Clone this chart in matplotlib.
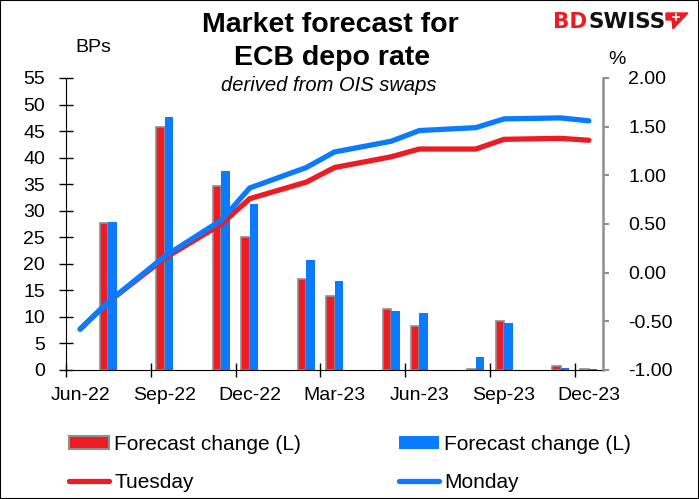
import numpy as np
import matplotlib
matplotlib.use('Agg')
import matplotlib.pyplot as plt
from matplotlib.patches import Patch, Polygon, Rectangle
from matplotlib.lines import Line2D

plt.rcParams['font.family'] = ['Liberation Sans', 'DejaVu Sans']

months = ['Jun-22', 'Jul-22', 'Aug-22', 'Sep-22', 'Oct-22', 'Nov-22', 'Dec-22',
          'Jan-23', 'Feb-23', 'Mar-23', 'Apr-23', 'May-23', 'Jun-23', 'Jul-23',
          'Aug-23', 'Sep-23', 'Oct-23', 'Nov-23', 'Dec-23']
meetings = ['Jul-22', 'Sep-22', 'Nov-22', 'Dec-22', 'Feb-23', 'Mar-23',
            'May-23', 'Jun-23', 'Aug-23', 'Sep-23', 'Nov-23', 'Dec-23']
change_tue = [27.6, 45.8, 34.6, 25.1, 17.2, 13.9, 11.4, 8.3, 0.1, 9.2, 0.75, 0.1]
change_mon = [27.9, 47.6, 37.5, 31.3, 20.7, 16.8, 11.1, 10.7, 2.5, 8.8, 0.3, 0.2]
line_months = ['Jun-22'] + meetings
rate_tue = [-0.58, -0.30, 0.15, 0.50, 0.76, 0.93, 1.08, 1.19, 1.27, 1.27, 1.37, 1.38, 1.36]
rate_mon = [-0.58, -0.30, 0.17, 0.54, 0.87, 1.08, 1.24, 1.35, 1.46, 1.49, 1.58, 1.59, 1.56]

RED = '#ED1C24'
BLUE = '#0A7BFF'
GREY = '#8F8F8F'
W, H = 699, 499


def px(x, y):
    return x / W, 1 - y / H


fig = plt.figure(figsize=(W / 100, H / 100), dpi=100)
ax = fig.add_axes([66 / W, 1 - 370 / H, (603 - 66) / W, (370 - 78) / H])
ax2 = ax.twinx()

bx = np.array([months.index(m) for m in meetings])
lx = np.array([months.index(m) for m in line_months])

ax.bar(bx - 0.15, change_tue, width=0.3, color=RED, edgecolor=GREY, linewidth=1.2)
ax.bar(bx + 0.15, change_mon, width=0.3, color=BLUE, linewidth=0)
ax.set_ylim(0, 55)
ax.set_yticks(np.arange(0, 56, 5))
ax.set_xlim(-0.5, len(months) - 0.5)

ax2.plot(lx, rate_tue, color=RED, lw=3.8, solid_capstyle='round', solid_joinstyle='round')
ax2.plot(lx, rate_mon, color=BLUE, lw=3.8, solid_capstyle='round', solid_joinstyle='round')
ax2.set_ylim(-1, 2)
ax2.set_yticks(np.arange(-1, 2.01, 0.5))
ax2.set_yticklabels(['%.2f' % v for v in np.arange(-1, 2.01, 0.5)])

# x axis: ticks on month boundaries, labels in month centres
ax.set_xticks(np.arange(-0.5, len(months), 3))
ax.set_xticklabels([])
ax.set_xticks(np.arange(0, len(months), 3), minor=True)
ax.set_xticklabels(months[::3], minor=True)
ax.tick_params(axis='x', which='major', direction='inout', length=10, width=1)
ax.tick_params(axis='x', which='minor', length=0, pad=12, labelsize=14)
ax.tick_params(axis='y', direction='inout', length=10, width=1, pad=10, labelsize=14)
ax2.tick_params(axis='y', direction='out', length=4, width=1.5, color=GREY, pad=14, labelsize=14)

for a in (ax, ax2):
    a.spines['top'].set_visible(False)
    a.patch.set_visible(False)
ax.spines['right'].set_visible(False)
ax2.spines['left'].set_visible(False)
ax2.spines['bottom'].set_visible(False)
ax2.spines['right'].set_color(GREY)
ax2.spines['right'].set_linewidth(1.8)
ax.set_zorder(1)
ax2.set_zorder(2)

# titles and axis units
fig.text(*px(330, 32), 'Market forecast for', ha='center', va='baseline',
         fontsize=20.5, fontweight='bold')
fig.text(*px(332, 65), 'ECB depo rate', ha='center', va='baseline',
         fontsize=20.5, fontweight='bold')
fig.text(*px(329, 91), 'derived from OIS swaps', ha='center', va='baseline',
         fontsize=14.5, style='italic')
fig.text(*px(93, 47), 'BPs', ha='center', va='center', fontsize=14)
fig.text(*px(617, 60), '%', ha='center', va='center', fontsize=14)

# logo
fig.text(*px(553, 28), 'BD', color=RED, fontsize=15.5, fontweight='bold',
         va='baseline', family='DejaVu Sans')
fig.text(*px(588, 28), 'SWISS', color='#111111', fontsize=15.5, fontweight='bold',
         va='baseline', family='DejaVu Sans')
flag = [px(666, 13), px(688, 13), px(673, 29), px(672, 20), px(666, 20)]
fig.patches.append(Polygon(flag, closed=True, color=RED, transform=fig.transFigure))
fig.lines.append(Line2D([px(673, 16.5)[0], px(679, 16.5)[0]], [px(673, 16.5)[1]] * 2,
                        color='white', lw=1.2, transform=fig.transFigure))
fig.lines.append(Line2D([px(676, 13.5)[0]] * 2, [px(676, 13.5)[1], px(676, 19.5)[1]],
                        color='white', lw=1.2, transform=fig.transFigure))

handles = [Patch(facecolor=RED, edgecolor=GREY, linewidth=1.5),
           Line2D([], [], color=RED, lw=3.8, solid_capstyle='round'),
           Patch(facecolor=BLUE, linewidth=0),
           Line2D([], [], color=BLUE, lw=3.8, solid_capstyle='round')]
labels = ['Forecast change (L)', 'Tuesday', 'Forecast change (L)', 'Monday']
fig.legend(handles, labels, ncol=2, loc='upper left', bbox_to_anchor=px(69, 435),
           frameon=False, fontsize=15, handlelength=1.92, handleheight=0.55,
           handletextpad=0.25, columnspacing=4.7, labelspacing=0.9,
           borderpad=0, borderaxespad=0)

fig.patches.append(Rectangle((0, 0), 1, 1, fill=False, edgecolor='black',
                             lw=1.5, transform=fig.transFigure))

fig.savefig('out.png', dpi=100)
